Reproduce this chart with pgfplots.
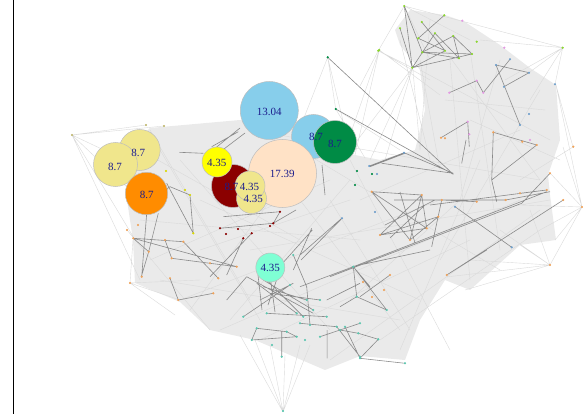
\documentclass[border=0pt]{standalone}
\usepackage{pgfplots}
\pgfplotsset{compat=1.18}
\usepackage{fontspec}
\setmainfont{Liberation Serif}
\definecolor{meshfill}{HTML}{EAEAEA}
\definecolor{meshline}{HTML}{DADADA}
\definecolor{darkedge}{HTML}{8A8A8A}
\definecolor{cborder}{HTML}{BDBDBD}
\definecolor{labcol}{HTML}{1C1C8C}
\definecolor{cskyblue}{HTML}{87CEEB}
\definecolor{cbisque}{HTML}{FFE2C6}
\definecolor{ckhaki}{HTML}{F0E68C}
\definecolor{corange}{HTML}{FF8C00}
\definecolor{cyellow}{HTML}{FFFF00}
\definecolor{cdarkred}{HTML}{8B0000}
\definecolor{cgreen}{HTML}{008B45}
\definecolor{caqua}{HTML}{7FFFD4}
\definecolor{ngreen}{HTML}{8AD62E}
\definecolor{npink}{HTML}{E39BE3}
\definecolor{nblue}{HTML}{6F9FCB}
\definecolor{norange}{HTML}{EFA35C}
\definecolor{nteal}{HTML}{5CC7B0}
\begin{document}
\begin{tikzpicture}
\begin{axis}[width=583pt,height=414pt,scale only axis,
  xmin=0,xmax=583,ymin=0,ymax=414,y dir=reverse,hide axis,
  unbounded coords=jump]
% left frame line
\addplot[black,line width=0.9pt] coordinates {(13.5,0) (13.5,414)};
% dense mesh areas
\addplot[draw=none,fill=meshfill] coordinates {
(132,145) (150,128) (240,120) (300,128) (340,152) (380,160) (415,150) (425,110) (420,70)
(400,45) (395,30) (410,10) (445,15) (465,22) (500,45) (530,68) (556,85) (560,140)
(548,175) (550,195) (556,240) (520,245) (470,290) (445,280) (420,320) (405,360) (360,356)
(325,370) (290,355) (255,340) (210,330) (180,302) (135,283) (133,240) (127,200)} -- cycle;
% light edges
\addplot[meshline,line width=0.4pt] coordinates {
(72,135) (146,125) (nan,nan) (72,135) (164,126) (nan,nan) (72,135) (130,190) (nan,nan)
(72,135) (134,238) (nan,nan) (72,135) (125,160) (nan,nan) (72,135) (140,280) (nan,nan)
(130,283) (180,300) (nan,nan) (130,283) (200,280) (nan,nan) (130,283) (175,315) (nan,nan)
(130,283) (133,240) (nan,nan) (127,230) (210,330) (nan,nan)
(404.3,6) (378.3,50.7) (nan,nan) (404.3,6) (562.7,47.7) (nan,nan) (404.3,6) (470,40) (nan,nan)
(404.3,6) (430,60) (nan,nan) (562.7,47.7) (529,72.7) (nan,nan) (562.7,47.7) (555,84.3) (nan,nan)
(562.7,47.7) (480,40) (nan,nan) (562.7,47.7) (530,100) (nan,nan) (562.7,47.7) (505,80) (nan,nan)
(378.3,50.7) (412.3,67.7) (nan,nan) (378.3,50.7) (430,80) (nan,nan) (378.3,50.7) (360,86) (nan,nan)
(379.3,50) (345,150) (nan,nan) (379.3,50) (355,155) (nan,nan) (379.3,50) (440,95) (nan,nan)
(327.7,57.3) (335.7,109) (nan,nan) (327.7,57.3) (350,150) (nan,nan) (327.7,57.3) (300,128) (nan,nan)
(412.7,67.3) (370,160) (nan,nan) (412.7,67.3) (385,160) (nan,nan) (412.7,67.3) (350,150) (nan,nan)
(412.7,67.3) (420,150) (nan,nan) (335.7,109) (365,158) (nan,nan) (335.7,109) (400,150) (nan,nan)
(582,207) (563,147) (nan,nan) (582,207) (550,173) (nan,nan) (582,207) (555,240) (nan,nan)
(582,207) (520,205) (nan,nan) (582,207) (550,265) (nan,nan) (582,207) (540,230) (nan,nan)
(582,207) (556,85) (nan,nan) (556,85) (573,147) (nan,nan) (573,147) (520,180) (nan,nan)
(550,265) (500,230) (nan,nan) (550,265) (470,260) (nan,nan) (550,265) (465,290) (nan,nan)
(550,265) (520,245) (nan,nan) (550,265) (446,277) (nan,nan) (550,265) (530,210) (nan,nan)
(283,412) (255,340) (nan,nan) (283,412) (300,345) (nan,nan) (283,412) (270,345) (nan,nan)
(283,412) (285,355) (nan,nan) (283,412) (310,345) (nan,nan) (283,412) (240,335) (nan,nan)
(140,150) (300,240) (nan,nan) (150,130) (250,300) (nan,nan) (200,200) (420,300) (nan,nan)
(250,130) (540,180) (nan,nan) (300,150) (500,270) (nan,nan) (350,160) (450,350) (nan,nan)
(180,300) (440,200) (nan,nan) (220,330) (520,200) (nan,nan) (260,340) (470,240) (nan,nan)
(330,360) (540,210) (nan,nan) (400,350) (480,160) (nan,nan) (450,60) (470,280) (nan,nan)
(470,50) (500,250) (nan,nan) (430,30) (540,180) (nan,nan) (420,70) (550,140) (nan,nan)
(500,60) (460,200) (nan,nan) (540,90) (440,260) (nan,nan) (140,220) (360,240) (nan,nan)
(160,280) (400,320) (nan,nan) (200,250) (350,200) (nan,nan) (300,200) (400,330) (nan,nan)
(250,250) (550,200) (nan,nan) (350,300) (460,200) (nan,nan) (180,160) (330,330) (nan,nan)
(230,320) (350,180) (nan,nan) (150,260) (330,180) (nan,nan) (190,310) (300,160) (nan,nan)
(380,340) (540,230) (nan,nan) (470,120) (560,160) (nan,nan) (445,100) (545,110) (nan,nan)
(410,330) (330,200) (nan,nan) (160,150) (260,320) (nan,nan) (360,200) (520,130) (nan,nan)
(420,60) (440,170) (nan,nan) (400,40) (430,160) (nan,nan) (430,20) (420,150)
};
% dark edges
\addplot[darkedge,line width=0.6pt] coordinates {
(404.3,6) (412.3,67.7) (nan,nan) (404.3,6) (422.3,52.3) (nan,nan)
(444.3,15.3) (418.3,38.3) (nan,nan) (421.7,22) (445,50.7) (nan,nan)
(435,33.3) (459,58.3) (nan,nan) (453.3,36) (422.3,52.3) (472,54) (453.3,36) (459,58.3) (nan,nan)
(412.3,67.7) (472,54) (nan,nan) (412.3,67.7) (445,50.7) (nan,nan) (422.3,52.3) (459,58.3) (nan,nan)
(412.3,67.7) (435,33.3) (nan,nan) (418.3,38.3) (445,50.7) (nan,nan) (400,28.3) (412.3,67.7) (nan,nan)
(449.3,92.7) (476.7,80.7) (483.3,92.7) (510,59.3) (nan,nan)
(496,65) (529,72.7) (504,86.7) (nan,nan) (496,65) (520,125) (nan,nan)
(441,137.7) (467.7,121.7) (469.3,146.7) (nan,nan)
(493.3,132.3) (536.7,145) (nan,nan) (493.3,132.3) (491.7,180) (496.7,201.7) (nan,nan)
(536.7,145) (491.7,180) (nan,nan)
(327.7,57.3) (453.3,174.3) (nan,nan) (335.7,109) (453.3,174.3) (nan,nan)
(369.3,166) (404,152.7) (453.3,173.3) (nan,nan) (381.7,163.3) (453.3,173.3) (nan,nan)
(466,140) (461.7,163.3) (nan,nan) (405,153.3) (370,166.7) (nan,nan)
(371.7,191.7) (421.7,195) (nan,nan) (371.7,191.7) (410,240) (nan,nan)
(371.7,191.7) (426.7,228.3) (nan,nan) (380,235) (421.7,195) (nan,nan)
(380,235) (438.3,216.7) (nan,nan) (410,240) (421.7,195) (nan,nan)
(410,240) (438.3,216.7) (nan,nan) (421.7,195) (426.7,228.3) (nan,nan)
(380,235) (426.7,228.3) (nan,nan) (400,192) (415,243) (nan,nan)
(385,225) (435,200) (nan,nan) (390,238) (425,205) (nan,nan)
(441.7,200) (476.7,201.7) (nan,nan) (441.7,200) (431.7,246.7) (nan,nan)
(455,206.7) (511.7,247.3) (nan,nan) (430,205) (546.7,190) (nan,nan)
(520,193.3) (546.7,190) (nan,nan) (330,276.7) (521.7,203.3) (nan,nan)
(353.3,266.7) (546.7,191.7) (nan,nan) (353.3,266.7) (370,286.7) (nan,nan)
(446.7,275) (563.3,200) (nan,nan) (550,173.3) (521.7,203.3) (nan,nan)
(394,200) (505.6,200) (550,191.7) (nan,nan)
(351.7,266.7) (430,250) (nan,nan) (353.3,266.7) (356.7,296.7) (386.7,310) (nan,nan)
(340,306.7) (356.7,296.7) (nan,nan) (353.3,266.7) (386.7,310) (nan,nan) (390,275) (360,296.7) (nan,nan)
(446.7,275) (486.7,250) (nan,nan) (340,330) (358.3,333.3) (378.3,339.3) (nan,nan)
(345,326.7) (360,358.3) (405,363.3) (nan,nan) (360,358.3) (378.3,339.3) (nan,nan)
(146.7,213.3) (141.7,276.7) (nan,nan) (158.3,213.3) (148.3,253.3) (nan,nan)
(133.3,238.3) (183.3,241.7) (nan,nan) (133.3,238.3) (236.7,266.7) (nan,nan)
(165,240) (171.7,258.3) (210,263.3) (236.7,266.7) (nan,nan)
(183.3,241.7) (218.3,278.3) (nan,nan) (170,278.3) (178.3,300) (213.3,293.3) (nan,nan)
(220,228.3) (273.3,223.3) (280,211.7) (nan,nan) (243.3,238.3) (226.7,275) (nan,nan)
(251.7,233.3) (210,276.7) (nan,nan) (226.7,300) (246.7,276.7) (nan,nan)
(311.7,228.3) (293.3,270) (nan,nan) (293.3,255) (306.7,286.7) (310,325) (nan,nan)
(341.7,218.3) (300,255) (nan,nan) (166.7,183.3) (193.3,233.3) (nan,nan)
(160,193.3) (170,186.7) (190,195) (193.3,233.3) (nan,nan)
(179.3,152.3) (203.3,153.3) (nan,nan) (211.7,146.7) (238.3,131.7) (nan,nan)
(213,150) (240,128) (nan,nan) (220,152) (245,133) (nan,nan)
(223.3,216.7) (280,211.7) (nan,nan) (312.3,230) (282.5,263.3) (nan,nan)
(342,218.3) (301,260) (nan,nan) (133.3,238.3) (148.7,251.7) (141.3,276.7) (nan,nan)
(322,165) (325,195) (nan,nan) (296,210) (272,224) (nan,nan)
(263.3,286.7) (306.7,300) (nan,nan) (263.3,280) (313.3,310) (nan,nan)
(256.7,283.3) (296.7,313.3) (nan,nan) (270,293.3) (320,300) (nan,nan)
(266.7,280) (303.3,316.7) (nan,nan) (260,300) (293.3,283.3) (nan,nan)
(246.7,276.7) (313.3,313.3) (nan,nan) (266.7,313.3) (326.7,316.7) (nan,nan)
(243.3,316.7) (290,285) (nan,nan) (258,275) (262,310) (nan,nan)
(270,275) (275,312) (nan,nan) (280,270) (268,305) (nan,nan)
(256.7,328.3) (251.7,340) (296.7,336.7) (nan,nan)
(256.7,328.3) (286.7,331.7) (296.7,336.7) (nan,nan)
(281.7,331.7) (281.7,356.7) (nan,nan) (300,323.3) (336.7,326.7) (360,356.7) (nan,nan)
(320,336.7) (360,323.3) (nan,nan) (326.7,300) (360,283.3) (nan,nan)
(353.3,266.7) (300,286.7) (nan,nan) (327.1,330) (327.1,358.3)
};
% small nodes
\addplot[only marks,mark=*,mark size=0.9pt,color=ngreen] coordinates {
(404.3,6) (444.3,15.3) (400,28.3) (421.7,22) (435,33.3) (453.3,36) (476.7,41.7) (418.3,38.3)
(378.3,50.7) (422.3,52.3) (445,50.7) (472,54) (459,58.3) (412.3,67.7) (562.7,47.7) (379.3,50)};
\addplot[only marks,mark=*,mark size=0.9pt,color=npink] coordinates {
(462.3,20.7) (504.3,47.7) (476.7,80.7) (449.3,92.7) (483.3,92.7) (467.7,121.7) (469.3,134.3) (530,140)};
\addplot[only marks,mark=*,mark size=0.9pt,color=nblue] coordinates {
(496,65) (529,72.7) (555,84.3) (504,86.7) (520,125) (529,114) (510,59.3) (404,152.7)
(369.3,166) (455,206.7) (511.7,247.3) (342,218.3) (375,212) (377,174)};
\addplot[only marks,mark=*,mark size=0.9pt,color=norange] coordinates {
(441,137.7) (493.3,132.3) (536.7,145) (522.3,141.7) (573.3,146.7) (445,138.3) (550,173.3)
(563.3,200) (582,207) (546.7,190) (520,193.3) (505.6,200) (476.7,201.7) (441.7,200)
(371.7,191.7) (421.7,195) (410,240) (380,235) (438.3,216.7) (426.7,228.3) (550,265)
(390,275) (384,290) (363,282) (372,297) (446.7,275)
(133.3,238.3) (165,240) (183.3,241.7) (171.7,258.3) (210,263.3) (236.7,266.7) (141.7,276.7)
(130,283) (170,278.3) (178.3,300) (213.3,293.3) (218.3,278.3) (148.7,251.7) (127,230) (138,225)};
\addplot[only marks,mark=*,mark size=0.9pt,color=nteal] coordinates {
(243.3,316.7) (256.7,328.3) (251.7,340) (296.7,336.7) (286.7,331.7) (281.7,356.7) (300,323.3)
(336.7,326.7) (360,356.7) (320,336.7) (360,323.3) (306.7,300) (313.3,310) (296.7,313.3)
(320,300) (303.3,316.7) (326.7,316.7) (266.7,313.3) (290,285) (293.3,255) (310,325)
(283,411) (305,340) (272,345) (340,330) (358.3,333.3) (378.3,339.3) (360,358.3) (405,363.3)
(386.7,310) (353.3,266.7) (356.7,296.7) (345,326.7)};
\addplot[only marks,mark=*,mark size=0.9pt,color=cdarkred] coordinates {
(220,228.3) (251.7,233.3) (243.3,238.3) (280,211.7) (273.3,223.3) (226,234) (270,226) (238,229)};
\addplot[only marks,mark=*,mark size=0.9pt,color=cyellow!85!black] coordinates {
(193.3,233.3) (190,195) (166,171) (185,190)};
\addplot[only marks,mark=*,mark size=0.9pt,color=ckhaki!80!black] coordinates {
(146,125) (164,126) (72,135)};
\addplot[only marks,mark=*,mark size=0.9pt,color=cgreen] coordinates {
(335.7,109) (327.7,57.3) (357,171) (372,174) (355,185)};
% big circles
\addplot[only marks,mark=*,mark size=29pt,mark options={fill=cskyblue,draw=cborder,line width=0.5pt}] coordinates {(269.3,110.5)};
\addplot[only marks,mark=*,mark size=22pt,mark options={fill=cskyblue,draw=cborder,line width=0.5pt}] coordinates {(313.5,136.5)};
\addplot[only marks,mark=*,mark size=34pt,mark options={fill=cbisque,draw=cborder,line width=0.5pt}] coordinates {(282.5,173.5)};
\addplot[only marks,mark=*,mark size=21.5pt,mark options={fill=cgreen,draw=cborder,line width=0.5pt}] coordinates {(335,142)};
\addplot[only marks,mark=*,mark size=20.5pt,mark options={fill=ckhaki,draw=cborder,line width=0.5pt}] coordinates {(139.7,150)};
\addplot[only marks,mark=*,mark size=22pt,mark options={fill=ckhaki,draw=cborder,line width=0.5pt}] coordinates {(115.5,164.5)};
\addplot[only marks,mark=*,mark size=21.2pt,mark options={fill=corange,draw=cborder,line width=0.5pt}] coordinates {(146.5,193.5)};
\addplot[only marks,mark=*,mark size=21.5pt,mark options={fill=cdarkred,draw=cborder,line width=0.5pt}] coordinates {(233,186)};
\addplot[only marks,mark=*,mark size=15pt,mark options={fill=cyellow,draw=cborder,line width=0.5pt}] coordinates {(217,162)};
\addplot[only marks,mark=*,mark size=15pt,mark options={fill=ckhaki,draw=cborder,line width=0.5pt}] coordinates {(251.5,198.5)};
\addplot[only marks,mark=*,mark size=15pt,mark options={fill=ckhaki,draw=cborder,line width=0.5pt}] coordinates {(250,186)};
\addplot[only marks,mark=*,mark size=14.5pt,mark options={fill=caqua,draw=cborder,line width=0.5pt}] coordinates {(270.3,267.5)};
% labels
\addplot[draw=none,mark=none,nodes near coords,point meta=explicit symbolic,
  nodes near coords style={anchor=center,text=labcol,inner sep=0pt,font=\fontsize{11}{12}\selectfont}]
  coordinates {
  (269.3,111.5) [13.04]
  (316,136.7) [8.7]
  (282.3,174) [17.39]
  (335,144) [8.7]
  (138.3,152.7) [8.7]
  (115,166.7) [8.7]
  (146.7,195) [8.7]
  (231.5,187.3) [8.7]
  (216.7,163.3) [4.35]
  (249.5,186.7) [4.35]
  (253.3,199.3) [4.35]
  (270.3,268) [4.35]
};
\end{axis}
\pgfresetboundingbox
\path (current axis.south west) rectangle (current axis.north east);
\end{tikzpicture}
\end{document}
